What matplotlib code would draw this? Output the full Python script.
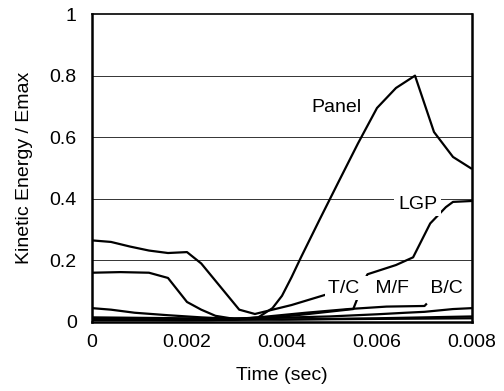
import matplotlib
matplotlib.use("Agg")
from matplotlib import pyplot as plt

# kinetic energy / Emax vs time
panel_t = [0, 0.0008, 0.0016, 0.0024, 0.0030, 0.0035, 0.0038, 0.0040, 0.0042, 0.0044,
           0.0048, 0.0052, 0.0056, 0.0060, 0.0064, 0.0068, 0.0072, 0.0076, 0.0080]
panel_e = [0.010, 0.010, 0.008, 0.006, 0.008, 0.015, 0.045, 0.085, 0.145, 0.210,
           0.335, 0.458, 0.580, 0.695, 0.760, 0.800, 0.617, 0.536, 0.497]

tc_t = [0, 0.0004, 0.0008, 0.0012, 0.0016, 0.0020, 0.0023, 0.0027, 0.0031, 0.00343,
        0.0042, 0.00495]
tc_e = [0.265, 0.260, 0.245, 0.232, 0.224, 0.227, 0.190, 0.115, 0.040, 0.026,
        0.055, 0.090]

low_t = [0, 0.0006, 0.0012, 0.0016, 0.0020, 0.0023, 0.0026, 0.0030, 0.0040, 0.0050,
         0.0060, 0.0070, 0.0080]
low_e = [0.160, 0.162, 0.160, 0.143, 0.065, 0.040, 0.020, 0.010, 0.008, 0.010,
         0.012, 0.015, 0.018]

lgp_t = [0, 0.0020, 0.0035, 0.0045, 0.0055, 0.00575, 0.0058, 0.0064, 0.00676, 0.00712,
         0.00745, 0.0076, 0.0080]
lgp_e = [0.006, 0.006, 0.010, 0.025, 0.042, 0.140, 0.155, 0.185, 0.210, 0.320,
         0.373, 0.390, 0.393]

mf_t = [0, 0.0004, 0.0009, 0.0016, 0.0023, 0.0030, 0.0035, 0.0045, 0.0054, 0.0062,
        0.0070, 0.00705]
mf_e = [0.045, 0.040, 0.030, 0.022, 0.015, 0.010, 0.015, 0.030, 0.042, 0.050,
        0.052, 0.060]

bc_t = [0, 0.0020, 0.0035, 0.0050, 0.0060, 0.0066, 0.0070, 0.0076, 0.0080]
bc_e = [0.015, 0.012, 0.012, 0.018, 0.025, 0.030, 0.033, 0.042, 0.045]

base_t = [0, 0.0020, 0.0040, 0.0060, 0.0080]
base_e = [0.008, 0.006, 0.008, 0.010, 0.012]

labels = ["Panel", "LGP", "T/C   M/F    B/C"]
label_pos = [(0.00462, 0.695), (0.00644, 0.383), (0.00497, 0.11)]

xticks = [0, 0.002, 0.004, 0.006, 0.008]
xticklabels = ["0", "0.002", "0.004", "0.006", "0.008"]
yticks = [0, 0.2, 0.4, 0.6, 0.8, 1]
yticklabels = ["0", "0.2", "0.4", "0.6", "0.8", "1"]

plt.rcParams["font.family"] = ["Liberation Sans", "DejaVu Sans"]
FS = 14

fig, ax = plt.subplots(figsize=(5.04, 3.91), dpi=100)
fig.subplots_adjust(left=0.1825, right=0.9365, bottom=0.1765, top=0.964)

for y in yticks[1:-1]:
    ax.axhline(y, color="#333333", linewidth=0.7, zorder=1)

for t, e in [(base_t, base_e), (bc_t, bc_e), (mf_t, mf_e), (low_t, low_e),
             (lgp_t, lgp_e), (tc_t, tc_e), (panel_t, panel_e)]:
    ax.plot(t, e, color="black", linewidth=1.6, zorder=2, solid_capstyle="butt")

for text, (x, y) in zip(labels, label_pos):
    ax.text(x, y, text, fontsize=FS, ha="left", va="center", zorder=3,
            bbox=dict(facecolor="white", edgecolor="none", pad=2.5))

ax.set_xlim(0, 0.008)
ax.set_ylim(0, 1)
ax.set_xticks(xticks)
ax.set_xticklabels(xticklabels)
ax.set_yticks(yticks)
ax.set_yticklabels(yticklabels)
ax.tick_params(length=0, labelsize=FS, pad=9)
ax.tick_params(axis="y", pad=11)

for side, spine in ax.spines.items():
    spine.set_linewidth(1.2 if side == "top" else 1.8)

ax.set_xlabel("Time (sec)", fontsize=FS, labelpad=11)
ax.set_ylabel("Kinetic Energy / Emax", fontsize=FS, labelpad=12)

fig.savefig("out.png", dpi=100)
